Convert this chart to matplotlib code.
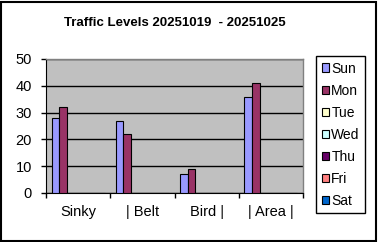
#traffic levels chart (excel style clustered columns)
import numpy as np
import matplotlib.pyplot as plt
from matplotlib.patches import Rectangle

plt.rcParams["font.family"] = ["Liberation Sans", "DejaVu Sans"]

#data:
places = ["Sinky", "| Belt", "Bird |", "| Area |"]
days = ["Sun", "Mon", "Tue", "Wed", "Thu", "Fri", "Sat"]
sun = [28, 27, 7, 36]
mon = [32, 22, 9, 41]
tue = [0, 0, 0, 0]
wed = [0, 0, 0, 0]
thu = [0, 0, 0, 0]
fri = [0, 0, 0, 0]
sat = [0, 0, 0, 0]
series = [sun, mon, tue, wed, thu, fri, sat]
colors = ["#9999FF", "#993366", "#FFFFCC", "#CCFFFF", "#660066", "#FF8080", "#0066CC"]

W, H = 379, 242
fig = plt.figure(figsize=(W / 100, H / 100), dpi=100)
#plot area in pixels: x 46..303, y 59..193
ax = fig.add_axes([46 / W, 1 - 193 / H, (303 - 46) / W, (193 - 59) / H])
ax.set_facecolor("#C0C0C0")

n = len(days)
gap = 1.5
w = 1 / (n + gap)
x = np.arange(len(places))
for i in range(n):
    pos = x - 0.5 + gap * w / 2 + (i + 0.5) * w
    vals = series[i]
    ax.bar(pos, vals, width=w, color=colors[i], edgecolor="black", linewidth=0.8,
           label=days[i], zorder=3)

ax.set_xlim(-0.5, len(places) - 0.5)
ax.set_ylim(0, 50)
ax.set_yticks(range(0, 51, 10))
ax.yaxis.grid(True, color="black", linewidth=1, zorder=1)
ax.set_axisbelow(True)

#category ticks at boundaries, labels in the middle
ax.set_xticks(np.arange(len(places) + 1) - 0.5)
ax.set_xticklabels([])
ax.set_xticks(x, minor=True)
ax.set_xticklabels(places, minor=True, fontsize=10.5)
ax.tick_params(axis="x", which="major", direction="out", length=3.8, width=1, color="black")
ax.tick_params(axis="x", which="minor", length=0, pad=8.5)
ax.tick_params(axis="y", direction="out", length=3.6, width=1, labelsize=10.5, pad=6.5)

for s in ["top", "right"]:
    ax.spines[s].set_color("#808080")
    ax.spines[s].set_linewidth(1)
ax.spines["left"].set_color("black")
ax.spines["bottom"].set_color("black")

fig.text(175 / W, 1 - 23 / H, "Traffic Levels 20251019  - 20251025", ha="center", va="center",
         fontsize=9.5, fontweight="bold")

leg = fig.legend(loc="upper left", bbox_to_anchor=(316 / W, 1 - 56 / H), fontsize=10,
                 frameon=True, fancybox=False, edgecolor="black", framealpha=1,
                 handlelength=0.55, handleheight=0.55, handletextpad=0.15,
                 labelspacing=0.58, borderpad=0.4, borderaxespad=0)
leg.get_frame().set_linewidth(1)

#outer chart border
fig.patches.append(Rectangle((0.5 / W, 1.5 / H), (375.5) / W, (239) / H, transform=fig.transFigure,
                             fill=False, edgecolor="black", linewidth=1.5))

plt.savefig("out.png", dpi=100)
